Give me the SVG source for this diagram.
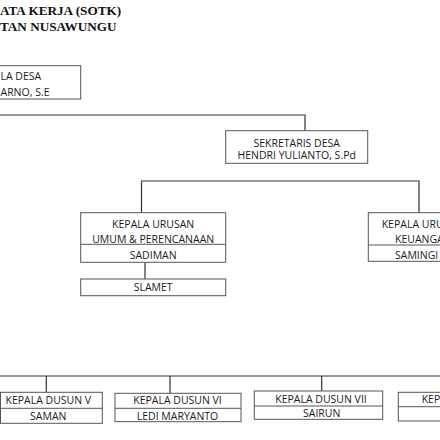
<svg xmlns="http://www.w3.org/2000/svg" width="440" height="440" viewBox="0 0 440 440">
<style>
.bg{fill:#ffffff}
.box{fill:#ffffff;stroke:#555555;stroke-width:1}
.div{stroke:#555555;stroke-width:1;fill:none}
.con{fill:none;stroke:#333333;stroke-width:1.2}
.t{font-family:"Open Sans","Liberation Sans",sans-serif;font-size:10.5px;fill:#1a1a1a}
.m{text-anchor:middle}
.title{font-family:"Liberation Serif","Times New Roman",serif;font-size:13.2px;font-weight:bold;fill:#111111}
</style>
<rect class="bg" x="0" y="0" width="440" height="440"/>
<g id="title">
<text class="title" x="0" y="15">ATA KERJA (SOTK)</text>
<text class="title" x="0" y="31">TAN NUSAWUNGU</text>
</g>
<g id="connectors">
<path class="con" d="M0 115 H305 V130.7"/>
<path class="con" d="M141.5 212.7 V181 H419 V212.7"/>
<path class="con" d="M145 262.3 V279"/>
<path class="con" d="M0 376 H440"/>
<path class="con" d="M46.3 376 V392.3"/>
<path class="con" d="M170 376 V393.3"/>
<path class="con" d="M321.7 376 V391"/>
</g>
<g id="kepala-desa">
<rect class="box" x="-20" y="65.7" width="100.7" height="33.3"/>
<text class="t" x="0.5" y="79.8">LA DESA</text>
<text class="t" x="0.5" y="96">ARNO, S.E</text>
</g>
<g id="sekretaris-desa">
<rect class="box" x="225.7" y="130.7" width="142" height="32.6"/>
<text class="t m" x="296.7" y="146.9">SEKRETARIS DESA</text>
<text class="t m" x="296.7" y="159.3">HENDRI YULIANTO, S.Pd</text>
</g>
<g id="kaur-umum">
<rect class="box" x="80.7" y="212.7" width="145" height="49.6"/>
<line class="div" x1="80.7" y1="244.3" x2="225.7" y2="244.3"/>
<text class="t m" x="153.2" y="227.6">KEPALA URUSAN</text>
<text class="t m" x="153.2" y="242.9">UMUM &amp; PERENCANAAN</text>
<text class="t m" x="153.2" y="258.6">SADIMAN</text>
</g>
<g id="staf-slamet">
<rect class="box" x="80.7" y="279" width="145" height="16.7"/>
<text class="t m" x="153.2" y="291.2">SLAMET</text>
</g>
<g id="kaur-keuangan">
<rect class="box" x="368.3" y="212.7" width="120" height="48.6"/>
<line class="div" x1="368.3" y1="245" x2="440" y2="245"/>
<text class="t" x="381.7" y="227.6">KEPALA URU</text>
<text class="t" x="395" y="242.9">KEUANGA</text>
<text class="t" x="395" y="258.6">SAMINGI</text>
</g>
<g id="dusun-v">
<rect class="box" x="0.5" y="392.3" width="101.8" height="31"/>
<line class="div" x1="0.5" y1="408.3" x2="102.3" y2="408.3"/>
<text class="t m" x="48.3" y="404.3">KEPALA DUSUN V</text>
<text class="t m" x="48.3" y="419.7">SAMAN</text>
</g>
<g id="dusun-vi">
<rect class="box" x="115" y="393.3" width="126" height="28.4"/>
<line class="div" x1="115" y1="408.3" x2="241" y2="408.3"/>
<text class="t m" x="177.5" y="404.3">KEPALA DUSUN VI</text>
<text class="t m" x="177.5" y="419.7">LEDI MARYANTO</text>
</g>
<g id="dusun-vii">
<rect class="box" x="254.3" y="391" width="128.4" height="28.3"/>
<line class="div" x1="254.3" y1="406" x2="382.7" y2="406"/>
<text class="t m" x="321" y="402.7">KEPALA DUSUN VII</text>
<text class="t m" x="321.7" y="417">SAIRUN</text>
</g>
<g id="dusun-viii">
<rect class="box" x="398.3" y="392.3" width="80" height="28.7"/>
<line class="div" x1="398.3" y1="406.7" x2="440" y2="406.7"/>
<text class="t" x="421.7" y="403">KEP</text>
</g>
</svg>
